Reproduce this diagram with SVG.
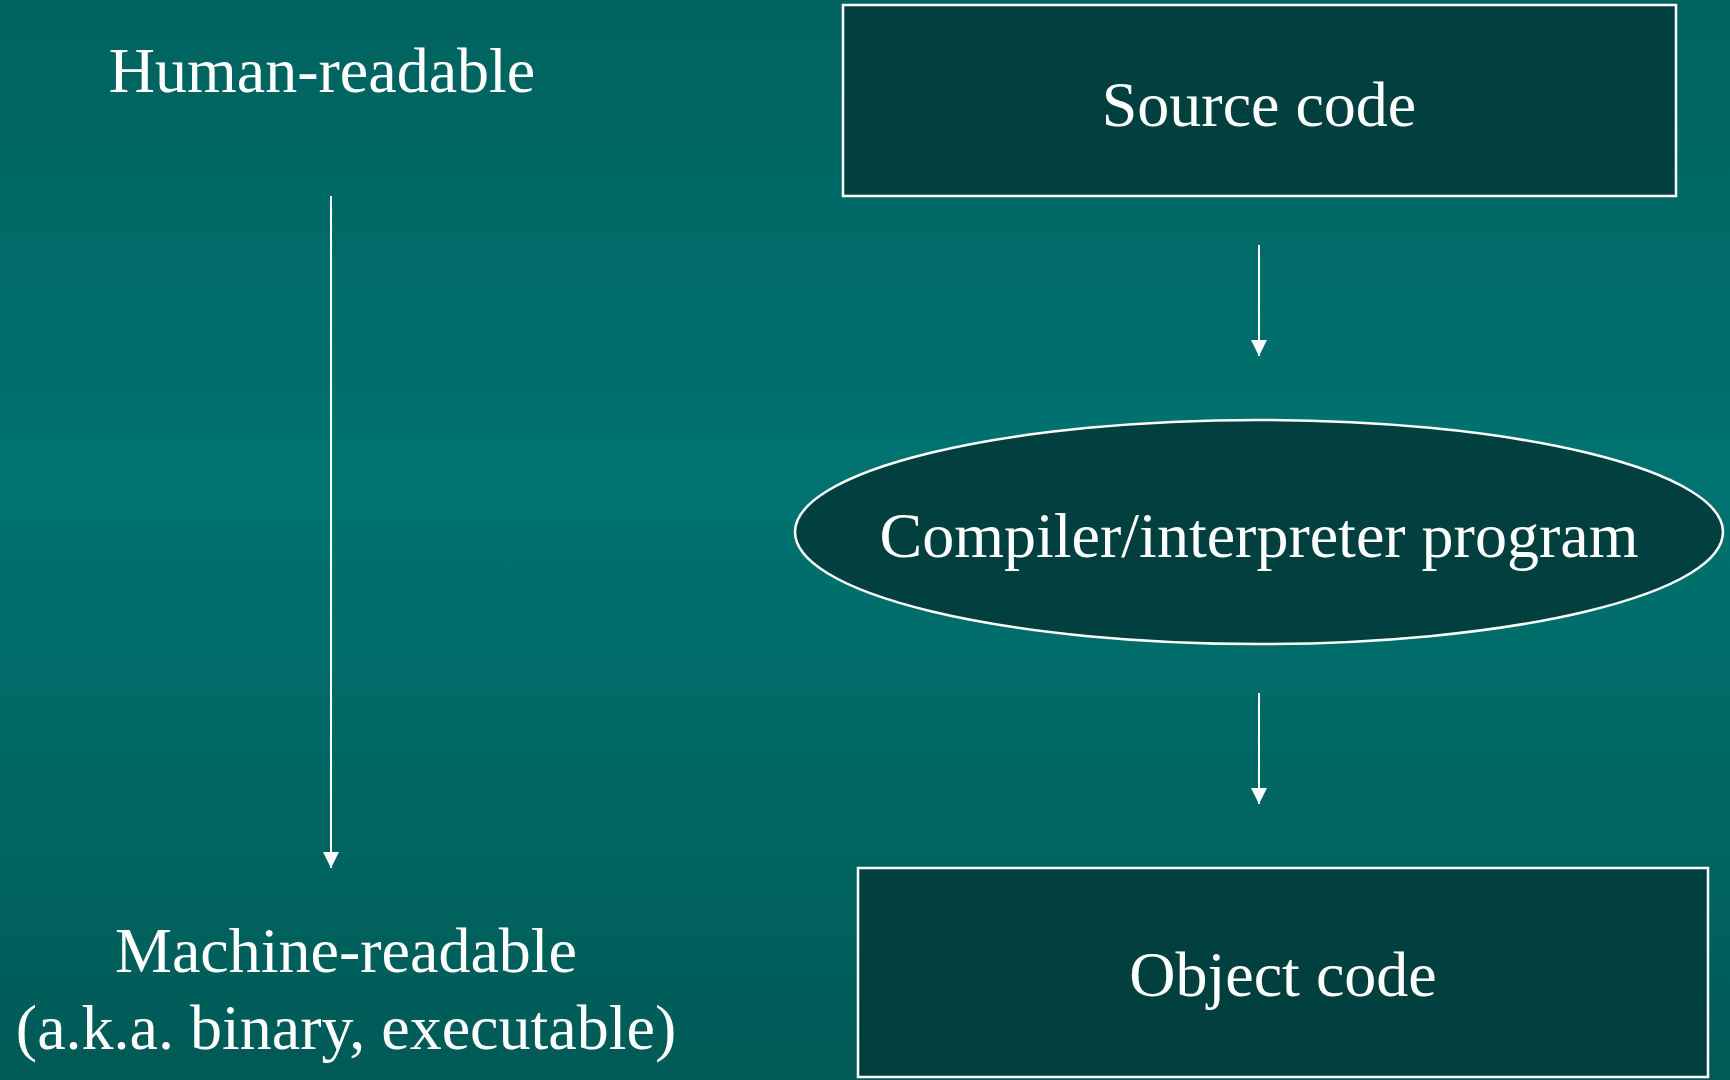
<svg xmlns="http://www.w3.org/2000/svg" width="1730" height="1080" viewBox="0 0 1730 1080">
<defs>
<linearGradient id="bg" x1="0" y1="0" x2="0" y2="1">
<stop offset="0" stop-color="#00625e"/>
<stop offset="0.45" stop-color="#007370"/>
<stop offset="1" stop-color="#005a56"/>
</linearGradient>
<marker id="ah" markerWidth="16" markerHeight="16" refX="16" refY="8" orient="auto" markerUnits="userSpaceOnUse">
<path d="M0,0 L16,8 L0,16 Z" fill="#ffffff"/>
</marker>
<style>
.t{font-family:"Liberation Serif","Times New Roman",serif;font-size:64px;fill:#ffffff;text-anchor:middle}
.n{fill:#01403f;stroke:#ffffff;stroke-width:2.5}
.c{stroke:#ffffff;stroke-width:2;fill:none;marker-end:url(#ah)}
</style>
</defs>
<rect x="0" y="0" width="1730" height="1080" fill="url(#bg)"/>
<g id="human-label"><text class="t" x="322" y="92">Human-readable</text></g>
<g id="machine-label">
<text class="t" x="346" y="972">Machine-readable</text>
<text class="t" x="346" y="1049">(a.k.a. binary, executable)</text>
</g>
<g id="source"><rect class="n" x="843" y="5" width="833" height="191"/><text class="t" x="1259" y="126">Source code</text></g>
<g id="compiler"><ellipse class="n" cx="1259" cy="532" rx="464" ry="112"/><text class="t" x="1259" y="557">Compiler/interpreter program</text></g>
<g id="object"><rect class="n" x="858" y="868" width="850" height="209"/><text class="t" x="1283" y="996">Object code</text></g>
<g id="connectors">
<line class="c" x1="331" y1="196" x2="331" y2="868"/>
<line class="c" x1="1259" y1="245" x2="1259" y2="356"/>
<line class="c" x1="1259" y1="693" x2="1259" y2="804"/>
</g>
</svg>
